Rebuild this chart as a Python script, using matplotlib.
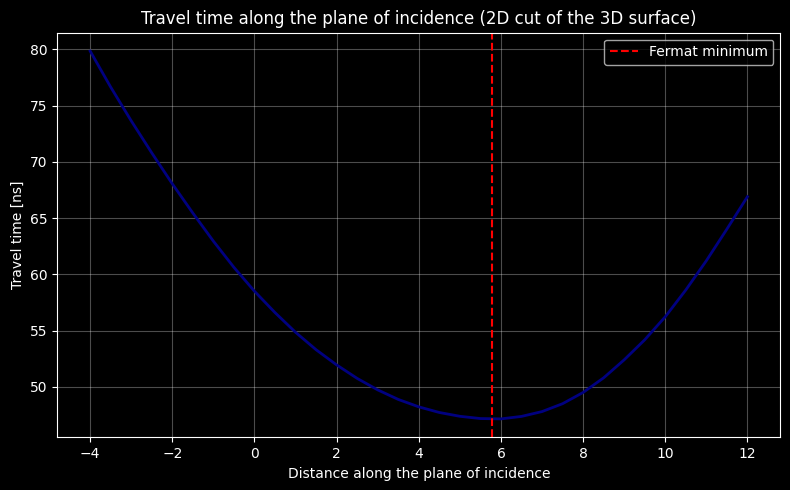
import numpy as np
import matplotlib.pyplot as plt

# distance along the plane of incidence and travel time
distancia = [-4, -3.5, -3, -2.5, -2, -1.5, -1, -0.5, 0, 0.5, 1, 1.5, 2, 2.5, 3, 3.5,
             4, 4.5, 5, 5.5, 6, 6.5, 7, 7.5, 8, 8.5, 9, 9.5, 10, 10.5, 11, 11.5, 12]
tempo = [79.85, 76.65, 73.65, 70.8, 68.05, 65.45, 62.95, 60.62, 58.5, 56.6, 54.85,
         53.3, 51.95, 50.75, 49.73, 48.88, 48.22, 47.72, 47.38, 47.18, 47.15, 47.37,
         47.8, 48.5, 49.5, 50.8, 52.4, 54.18, 56.23, 58.61, 61.21, 64.02, 66.9]

x_fermat = 5.78

plt.style.use('dark_background')
fig, ax = plt.subplots(figsize=(7.9, 4.9), dpi=100)

ax.plot(distancia, tempo, color='navy', linewidth=2)
ax.axvline(x_fermat, color='red', linestyle='--', label='Fermat minimum')

ax.set_title("Travel time along the plane of incidence (2D cut of the 3D surface)")
ax.set_xlabel('Distance along the plane of incidence')
ax.set_ylabel('Travel time [ns]')
ax.grid(True, alpha=0.3)
ax.legend()

plt.subplots_adjust(left=0.0725, right=0.9877, top=0.9333, bottom=0.1076)
plt.savefig('out.png')
